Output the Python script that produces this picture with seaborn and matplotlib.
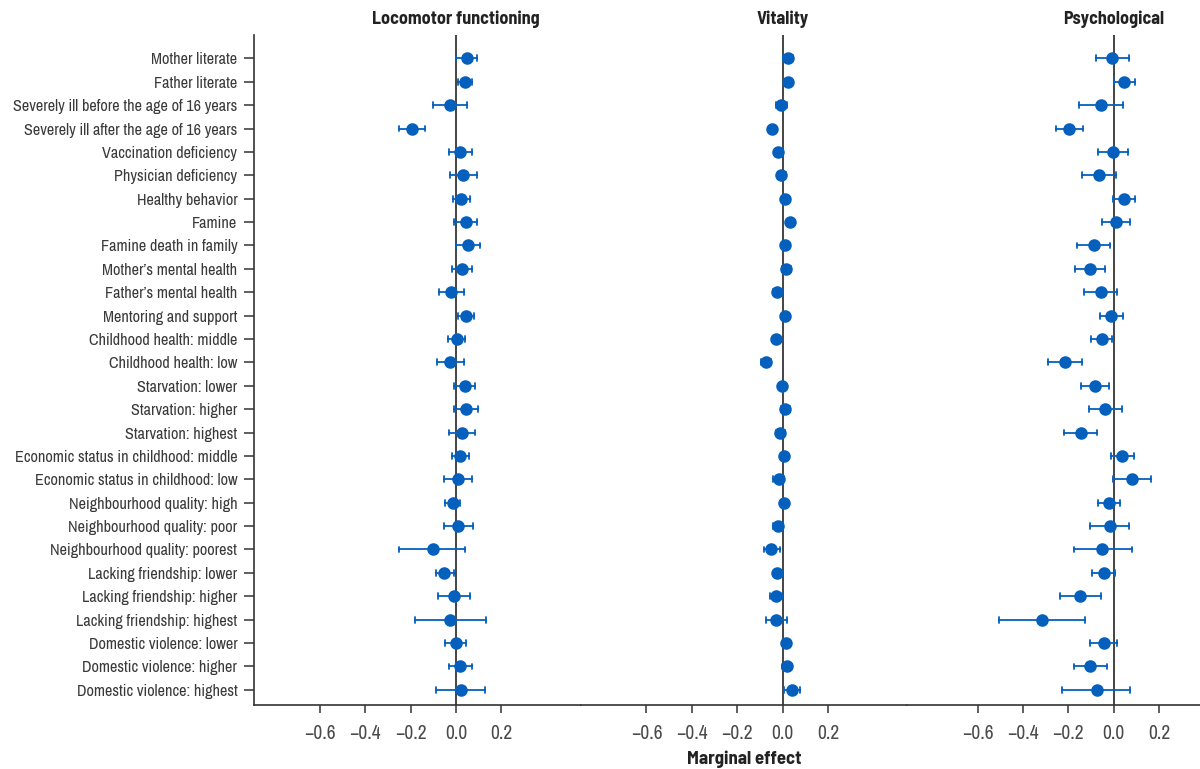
import numpy as np
import pandas as pd
import seaborn as sns
from matplotlib import pyplot as plt
from matplotlib import font_manager

labels = [
    "Mother literate",
    "Father literate",
    "Severely ill before the age of 16 years",
    "Severely ill after the age of 16 years",
    "Vaccination deficiency",
    "Physician deficiency",
    "Healthy behavior",
    "Famine",
    "Famine death in family",
    "Mother\u2019s mental health",
    "Father\u2019s mental health",
    "Mentoring and support",
    "Childhood health: middle",
    "Childhood health: low",
    "Starvation: lower",
    "Starvation: higher",
    "Starvation: highest",
    "Economic status in childhood: middle",
    "Economic status in childhood: low",
    "Neighbourhood quality: high",
    "Neighbourhood quality: poor",
    "Neighbourhood quality: poorest",
    "Lacking friendship: lower",
    "Lacking friendship: higher",
    "Lacking friendship: highest",
    "Domestic violence: lower",
    "Domestic violence: higher",
    "Domestic violence: highest",
]

loco_est = [0.047, 0.042, -0.026, -0.195, 0.019, 0.032, 0.023, 0.044, 0.054, 0.025,
            -0.022, 0.044, 0.003, -0.028, 0.038, 0.045, 0.026, 0.019, 0.010, -0.015,
            0.010, -0.103, -0.053, -0.010, -0.025, 0.001, 0.018, 0.023]
loco_lo = [0.000, 0.007, -0.101, -0.250, -0.029, -0.027, -0.013, -0.010, 0.000, -0.019,
           -0.074, 0.009, -0.035, -0.084, -0.009, -0.007, -0.031, -0.019, -0.053, -0.050,
           -0.053, -0.250, -0.090, -0.080, -0.180, -0.047, -0.031, -0.088]
loco_hi = [0.091, 0.073, 0.050, -0.138, 0.070, 0.091, 0.060, 0.095, 0.105, 0.070,
           0.034, 0.080, 0.038, 0.034, 0.085, 0.098, 0.083, 0.057, 0.073, 0.020,
           0.075, 0.038, -0.010, 0.063, 0.132, 0.044, 0.069, 0.130]

vit_est = [0.022, 0.022, -0.007, -0.047, -0.021, -0.006, 0.010, 0.031, 0.012, 0.016,
           -0.024, 0.012, -0.029, -0.075, -0.001, 0.010, -0.010, 0.006, -0.018, 0.004,
           -0.021, -0.050, -0.024, -0.028, -0.028, 0.015, 0.019, 0.041]
vit_lo = [0.000, 0.007, -0.031, -0.060, -0.033, -0.022, -0.002, 0.019, -0.004, -0.003,
          -0.044, 0.000, -0.039, -0.096, -0.012, -0.009, -0.031, -0.005, -0.041, -0.007,
          -0.044, -0.084, -0.035, -0.054, -0.074, 0.004, -0.004, 0.006]
vit_hi = [0.044, 0.040, 0.021, -0.035, -0.009, 0.015, 0.022, 0.043, 0.032, 0.037,
          -0.003, 0.024, -0.019, -0.053, 0.010, 0.032, 0.010, 0.017, 0.006, 0.015,
          0.001, -0.012, -0.013, -0.003, 0.019, 0.026, 0.043, 0.078]

psy_est = [-0.006, 0.045, -0.056, -0.196, -0.004, -0.064, 0.047, 0.009, -0.088, -0.104,
           -0.057, -0.013, -0.053, -0.214, -0.083, -0.037, -0.146, 0.035, 0.080, -0.021,
           -0.018, -0.050, -0.043, -0.148, -0.318, -0.045, -0.104, -0.076]
psy_lo = [-0.080, 0.001, -0.154, -0.253, -0.069, -0.140, -0.003, -0.053, -0.164, -0.170,
          -0.130, -0.059, -0.101, -0.288, -0.144, -0.110, -0.221, -0.013, -0.003, -0.069,
          -0.104, -0.176, -0.097, -0.239, -0.508, -0.105, -0.176, -0.227]
psy_hi = [0.067, 0.094, 0.041, -0.135, 0.061, 0.010, 0.094, 0.073, -0.016, -0.037,
          0.013, 0.041, -0.009, -0.139, -0.023, 0.037, -0.076, 0.088, 0.162, 0.026,
          0.066, 0.082, 0.006, -0.057, -0.126, 0.012, -0.032, 0.073]

panels = ["Locomotor functioning", "Vitality", "Psychological"]
xticks = [-0.6, -0.4, -0.2, 0.0, 0.2]

BLUE = "#0560bd"


def long_frame(est, lo, hi):
    # three values per row: median = estimate, full range = CI
    rows = []
    for lab, e, l, h in zip(labels, est, lo, hi):
        for v in (l, e, h):
            rows.append({"label": lab, "value": v})
    return pd.DataFrame(rows)


def _w(x):
    if isinstance(x, str):
        return font_manager.weight_dict.get(x, 400)
    return int(x)


def pick_condensed():
    # the original uses a condensed sans; find a narrow face + a bold one
    by_name = {}
    for f in font_manager.fontManager.ttflist:
        if "Narrow" in f.name or "Condensed" in f.name:
            by_name.setdefault(f.name, set()).add(_w(f.weight))
    if not by_name:
        return None, None

    def score(n):
        s = 0
        if "Extra" in n or "Ultra" in n:
            s -= 4
        if "Semi" in n:
            s -= 1
        if any(k in n for k in ("Light", "Thin", "Medium", "Black", "Bold")):
            s -= 3
        if n.startswith("Noto Sans"):
            s += 1
        if 400 in by_name[n]:
            s += 2
        return s

    names = sorted(by_name, key=score, reverse=True)
    reg = names[0]
    if max(by_name[reg]) >= 600:
        return reg, (reg, "bold")
    bolds = [n for n in names if max(by_name[n]) >= 600 or "Bold" in n]
    bolds.sort(key=lambda n: ("Extra" in n, "Semi" not in n and "Bold" not in n))
    if bolds:
        n = bolds[0]
        return reg, (n, "bold" if max(by_name[n]) >= 600 else "normal")
    return reg, (reg, "bold")


def main():
    sns.set_theme(style="white")
    reg, bold = pick_condensed()
    if reg:
        plt.rcParams["font.family"] = [reg, "DejaVu Sans"]
        bold_kw = {"family": [bold[0], "DejaVu Sans"], "fontweight": bold[1]}
    else:
        plt.rcParams["font.family"] = ["DejaVu Sans"]
        bold_kw = {"fontweight": "bold"}
    narrow = reg is not None

    fig, axs = plt.subplots(
        1, 3, figsize=(12, 7.69), dpi=100,
        gridspec_kw={"width_ratios": [1.44, 1.44, 1.29], "wspace": 0},
    )
    fig.subplots_adjust(left=0.2117, right=1.0, top=0.9545, bottom=0.0832)

    data = [
        long_frame(loco_est, loco_lo, loco_hi),
        long_frame(vit_est, vit_lo, vit_hi),
        long_frame(psy_est, psy_lo, psy_hi),
    ]
    xlims = [(-0.89, 0.55), (-0.89, 0.55), (-0.91, 0.38)]
    ysize = 11.7 if narrow else 9.6
    tsize = 13 if narrow else 12
    xsize = 14 if narrow else 12

    for i, (ax, df) in enumerate(zip(axs, data)):
        ax.axvline(0, color="#444444", lw=1.4, zorder=0)
        sns.pointplot(
            data=df,
            x="value",
            y="label",
            order=labels,
            orient="h",
            estimator="median",
            errorbar=("pi", 100),
            linestyle="none",
            markers="o",
            markersize=7,
            capsize=0.25,
            err_kws={"linewidth": 1.3},
            color=BLUE,
            ax=ax,
        )
        ax.set_xlim(*xlims[i])
        ax.set_ylim(27.65, -1)
        ax.set_xticks(xticks)
        ax.set_xticklabels([f"{t:.1f}".replace("-", "\u2212") for t in xticks])
        ax.set_ylabel("")
        if i == 1:
            ax.set_xlabel("Marginal effect", fontsize=tsize + 0.5, color="#222222",
                          labelpad=5, **bold_kw)
        else:
            ax.set_xlabel("")
        ax.text(0, -1.3, panels[i], ha="center", va="bottom", fontsize=tsize,
                color="#222222", **bold_kw)
        for s in ["top", "right"]:
            ax.spines[s].set_visible(False)
        ax.spines["bottom"].set_color("#333333")
        ax.spines["bottom"].set_linewidth(1.2)
        ax.tick_params(axis="x", bottom=True, length=6, width=1.1, color="#333333",
                       labelsize=xsize, labelcolor="#4a4a4a", pad=8)
        if i == 0:
            ax.spines["left"].set_color("#333333")
            ax.spines["left"].set_linewidth(1.2)
            ax.tick_params(axis="y", left=True, length=7, width=1.1, color="#333333",
                           labelsize=ysize, labelcolor="#3a3a3a", pad=5)
        else:
            ax.spines["left"].set_visible(False)
            ax.tick_params(axis="y", left=False, labelleft=False)

    plt.savefig("out.png", dpi=100)


if __name__ == "__main__":
    main()
